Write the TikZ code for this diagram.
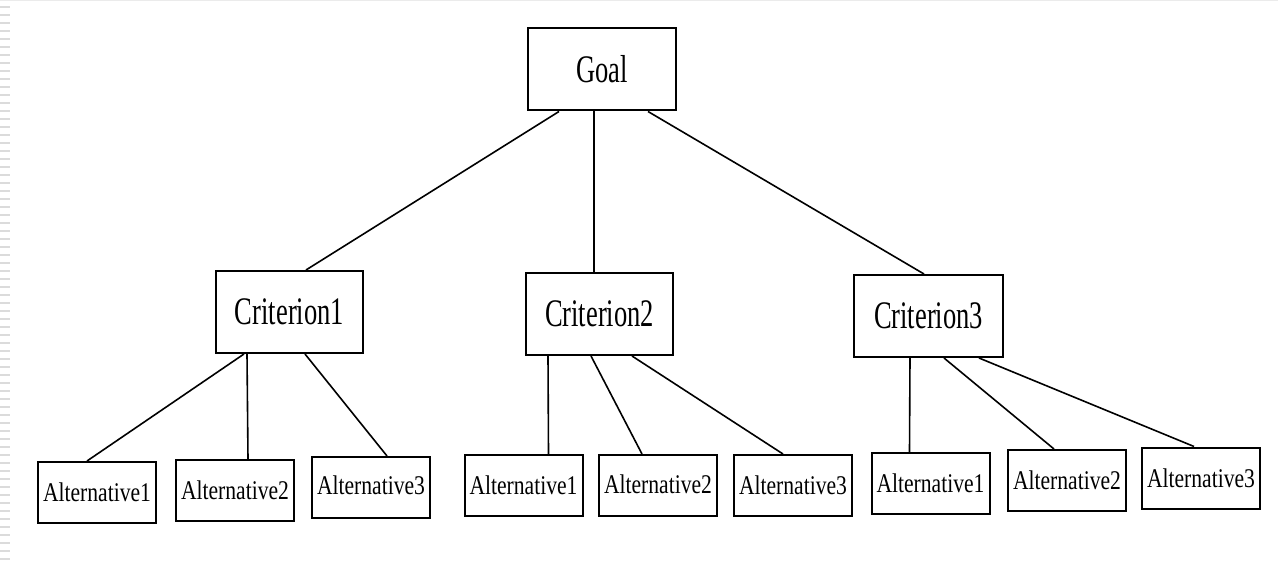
\documentclass[tikz,border=0pt]{standalone}
\usepackage{fontspec}
\setmainfont{Liberation Serif}
\newfontfamily\critfont{Liberation Serif}[FakeStretch=0.68]
\newfontfamily\altfont{Liberation Serif}[FakeStretch=0.8]
\begin{document}
\begin{tikzpicture}[x=1pt,y=-1pt,
  box/.style={draw, line width=2pt, inner sep=0pt, align=center},
  bigbox/.style={box, minimum height=82pt, font=\critfont\fontsize{39}{39}\selectfont},
  altbox/.style={box, minimum width=118pt, minimum height=61pt, font=\altfont\fontsize{27}{27}\selectfont},
  link/.style={line width=1.6pt},
  stripe/.style={fill=black!14, draw=none}
]
\useasboundingbox (0,0) rectangle (1278,561);
% slide frame: thin top rule and striped left margin
\draw[black!8, line width=1pt] (0,0.5) -- (1278,0.5);
\foreach \k in {0,...,69}{
  \fill[stripe] (0,{6+8*\k}) rectangle (10,{8+8*\k});
}

% goal
\node[bigbox, minimum width=148pt] (goal) at (602,69.5) {Goal};

% criteria
\node[bigbox, minimum width=147pt] (c1) at (289.5,312) {Criterion1};
\node[bigbox, minimum width=147pt] (c2) at (599.5,314) {Criterion2};
\node[bigbox, minimum width=149pt] (c3) at (928.5,316) {Criterion3};

% alternatives
\node[altbox] (a11) at (97,492.5)   {Alternative1};
\node[altbox] (a12) at (235,490.5)  {Alternative2};
\node[altbox] (a13) at (371,487.5)  {\raisebox{4pt}{Alternative3}};
\node[altbox] (a21) at (523.5,485.5){Alternative1};
\node[altbox] (a22) at (658,485.5)  {\raisebox{2pt}{Alternative2}};
\node[altbox] (a23) at (793,485.5)  {Alternative3};
\node[altbox] (a31) at (930.5,483.5){Alternative1};
\node[altbox] (a32) at (1067,480.5) {Alternative2};
\node[altbox] (a33) at (1201,478)   {Alternative3};

% goal to criteria
\draw[link] ([xshift=32pt]goal.south west)  -- ([xshift=91pt]c1.north west);
\draw[link] ([xshift=67pt]goal.south west)  -- ([xshift=69pt]c2.north west);
\draw[link] ([xshift=121pt]goal.south west) -- ([xshift=71pt]c3.north west);

% criterion 1 to alternatives
\draw[link] ([xshift=29pt]c1.south west) -- ([xshift=50pt]a11.north west);
\draw[link] ([xshift=32pt]c1.south west) -- ([xshift=73pt]a12.north west);
\draw[link] ([xshift=90pt]c1.south west) -- ([xshift=76pt]a13.north west);

% criterion 2 to alternatives
\draw[link] ([xshift=23pt]c2.south west)  -- ([xshift=85pt]a21.north west);
\draw[link] ([xshift=66pt]c2.south west)  -- ([xshift=44pt]a22.north west);
\draw[link] ([xshift=107pt]c2.south west) -- ([xshift=50pt]a23.north west);

% criterion 3 to alternatives
\draw[link] ([xshift=57pt]c3.south west)  -- ([xshift=39pt]a31.north west);
\draw[link] ([xshift=91pt]c3.south west)  -- ([xshift=47pt]a32.north west);
\draw[link] ([xshift=126pt]c3.south west) -- ([xshift=53pt]a33.north west);
\end{tikzpicture}
\end{document}
